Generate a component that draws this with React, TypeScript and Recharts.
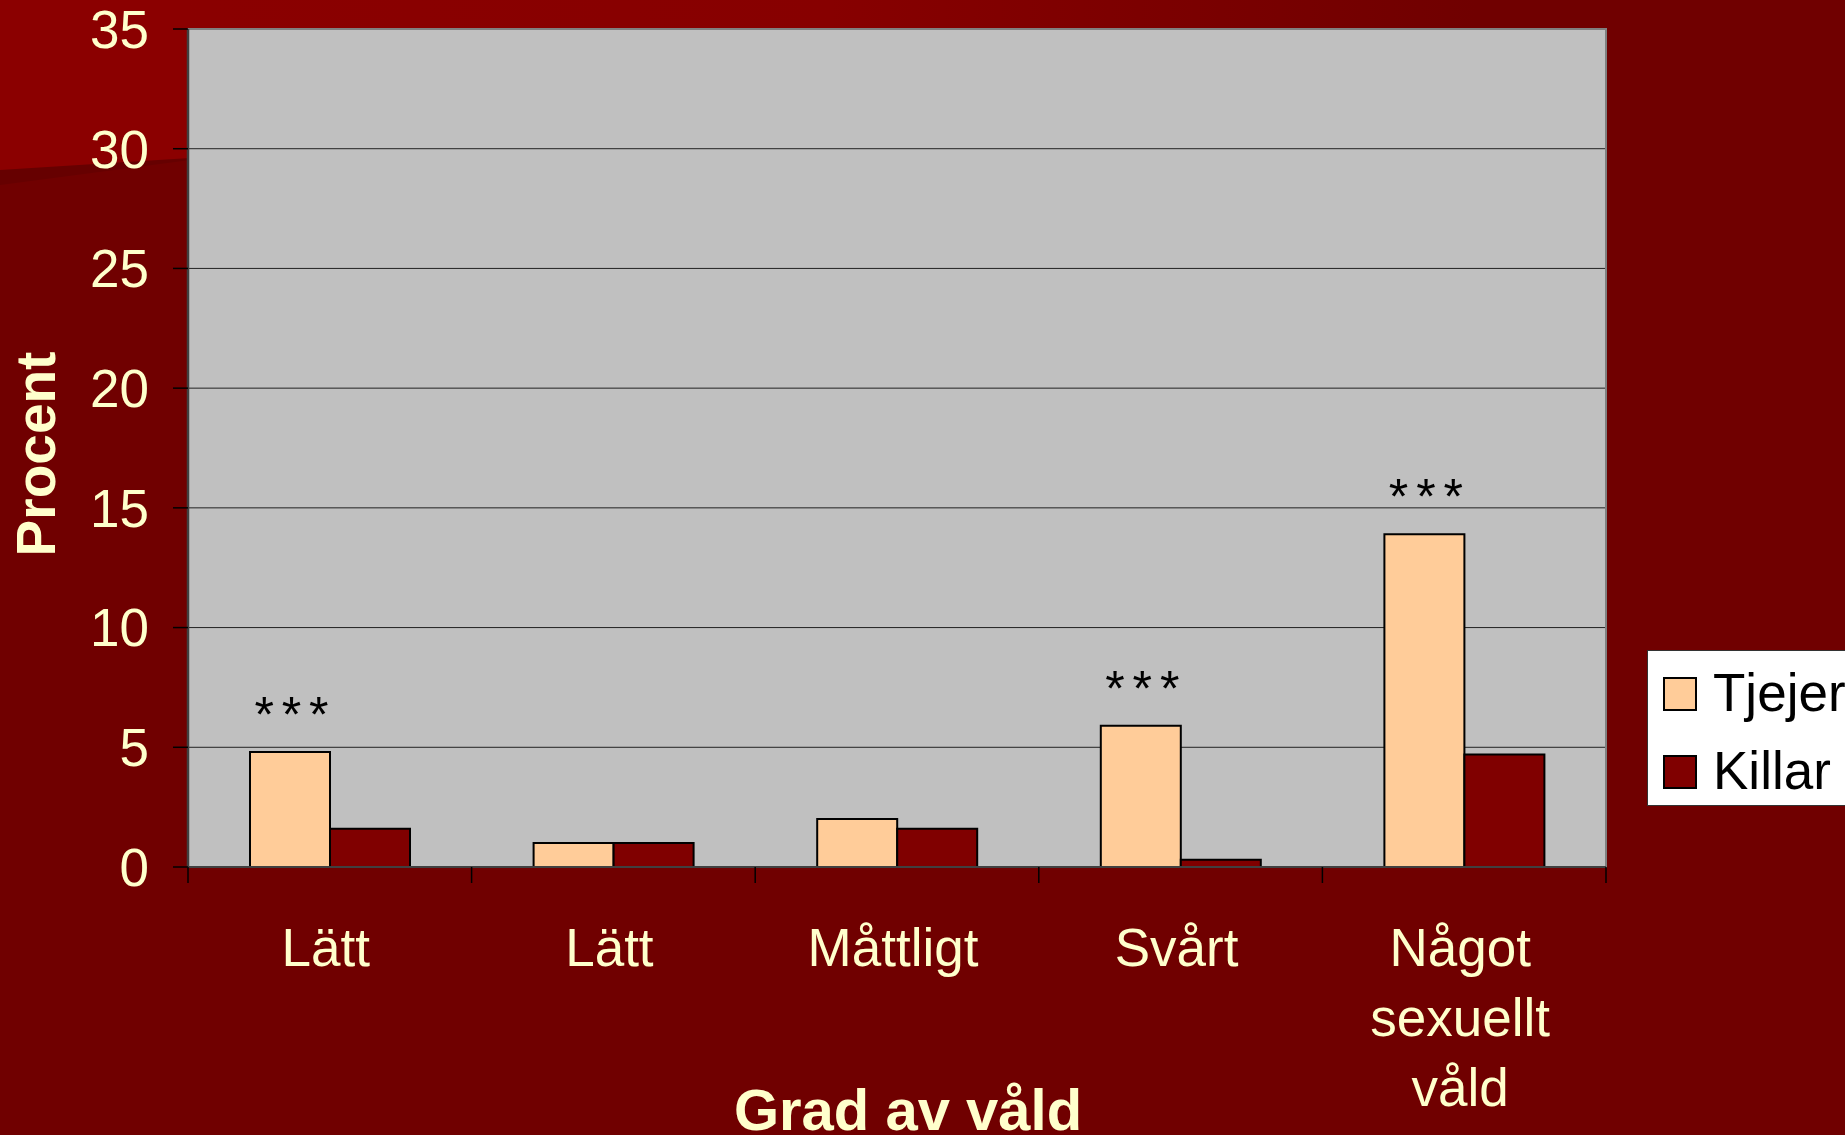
import React from "react";
import { BarChart, Bar, XAxis, YAxis, CartesianGrid, ReferenceArea, LabelList } from "recharts";

const categories = ["Lätt", "Lätt", "Måttligt", "Svårt", "Något\nsexuellt\nvåld"];
const tjejer = [4.8, 1.0, 2.0, 5.9, 13.9];
const killar = [1.6, 1.0, 1.6, 0.3, 4.7];
const signif = ["* * *", "", "", "* * *", "* * *"];
const yTicks = [0, 5, 10, 15, 20, 25, 30, 35];

const data = categories.map((grad, i) => ({
  grad,
  Tjejer: tjejer[i],
  Killar: killar[i],
  sig: signif[i],
}));

const W = 1845;
const H = 1135;
const M = { top: 29, right: 239, bottom: 0, left: 0 };
const Y_AXIS_W = 188;
const X_AXIS_H = 268;
const PLOT_W = W - M.left - M.right - Y_AXIS_W;
const BAND = PLOT_W / categories.length;
const TICK_SIZE = 16;
const TICK_MARGIN = 10;

const FONT = "'Liberation Sans', Arial, sans-serif";
const CREAM = "#FFFFCC";

function CategoryTick(props: any) {
  const { x, y, payload, index } = props;
  const axisY = y - TICK_SIZE - TICK_MARGIN;
  const lines = String(payload.value).split("\n");
  return (
    <g>
      <line x1={x - BAND / 2} x2={x - BAND / 2} y1={axisY} y2={axisY + TICK_SIZE} stroke="#000" strokeWidth={1.5} />
      {index === categories.length - 1 && (
        <line x1={x + BAND / 2} x2={x + BAND / 2} y1={axisY} y2={axisY + TICK_SIZE} stroke="#000" strokeWidth={1.5} />
      )}
      <text x={x - 4} y={axisY + 99} textAnchor="middle" fill={CREAM} fontSize={53} fontFamily={FONT}>
        {lines.map((l, i) => (
          <tspan key={i} x={x - 4} dy={i === 0 ? 0 : 70}>
            {l}
          </tspan>
        ))}
      </text>
    </g>
  );
}

function SigLabel(props: any) {
  const { x, y, width, value } = props;
  if (!value) return null;
  return (
    <text
      x={x + width / 2}
      y={y - 20}
      textAnchor="middle"
      fill="#000"
      fontSize={50}
      letterSpacing={-3}
      fontFamily={FONT}
    >
      {value}
    </text>
  );
}

function YTitle(props: any) {
  const vb = props.viewBox || { x: 0, y: 29, height: 838 };
  const cx = 55;
  const cy = vb.y + vb.height / 2 + 6;
  return (
    <text
      x={cx}
      y={cy}
      transform={`rotate(-90, ${cx}, ${cy})`}
      textAnchor="middle"
      fill={CREAM}
      fontSize={55}
      fontWeight="bold"
      fontFamily={FONT}
    >
      Procent
    </text>
  );
}

function Background() {
  return (
    <svg width={W} height={H} style={{ position: "absolute", left: 0, top: 0 }}>
      <defs>
        <linearGradient id="topband" x1="0" x2="1" y1="0" y2="0">
          <stop offset="0" stopColor="#8b0000" />
          <stop offset="0.45" stopColor="#870000" />
          <stop offset="0.8" stopColor="#700000" />
        </linearGradient>
      </defs>
      <rect width={W} height={H} fill="#700000" />
      <rect width={W} height={29} fill="url(#topband)" />
      <polygon points="0,0 190,0 190,160 0,185" fill="#660000" />
      <polygon points="0,0 190,0 190,158 0,170" fill="#8b0000" />
    </svg>
  );
}

export default function App() {
  return (
    <div style={{ position: "absolute", left: 0, top: 0, width: W, height: H, overflow: "hidden", background: "#700000" }}>
      <Background />
      <div style={{ position: "absolute", left: 0, top: 0 }}>
        <BarChart width={W} height={H} data={data} margin={M} barCategoryGap={62} barGap={0}>
          <CartesianGrid vertical={false} stroke="#222" strokeWidth={1} fill="#C0C0C0" fillOpacity={1} />
          <ReferenceArea y1={0} y2={35} fill="none" stroke="#808080" strokeWidth={2} ifOverflow="visible" />
          <XAxis
            dataKey="grad"
            height={X_AXIS_H}
            tickLine={false}
            tickSize={TICK_SIZE}
            tickMargin={TICK_MARGIN}
            interval={0}
            axisLine={{ stroke: "#404040", strokeWidth: 2 }}
            tick={<CategoryTick />}
            label={{
              value: "Grad av våld",
              position: "insideBottom",
              offset: 5,
              dx: 11,
              fill: CREAM,
              fontSize: 58,
              fontWeight: "bold",
              fontFamily: FONT,
            }}
          />
          <YAxis
            width={Y_AXIS_W}
            domain={[0, 35]}
            ticks={yTicks}
            interval={0}
            tickSize={15}
            tickMargin={24}
            tickLine={{ stroke: "#000", strokeWidth: 1.5 }}
            axisLine={{ stroke: "#404040", strokeWidth: 2.5 }}
            tick={{ fill: CREAM, fontSize: 53, fontFamily: FONT }}
            label={<YTitle />}
          />
          <Bar dataKey="Tjejer" fill="#FFCC99" stroke="#000" strokeWidth={2} isAnimationActive={false}>
            <LabelList dataKey="sig" content={<SigLabel />} />
          </Bar>
          <Bar dataKey="Killar" fill="#800000" stroke="#000" strokeWidth={2} isAnimationActive={false} />
        </BarChart>
      </div>
      <div
        style={{
          position: "absolute",
          left: 1647,
          top: 650,
          width: 230,
          height: 154,
          background: "#fff",
          border: "1px solid #333",
          fontFamily: FONT,
          fontSize: 53,
          color: "#000",
        }}
      >
        {[
          { name: "Tjejer", color: "#FFCC99", top: 26 },
          { name: "Killar", color: "#800000", top: 104 },
        ].map((it) => (
          <div key={it.name}>
            <div
              style={{
                position: "absolute",
                left: 15,
                top: it.top,
                width: 30,
                height: 30,
                background: it.color,
                border: "2px solid #000",
              }}
            />
            <div style={{ position: "absolute", left: 65, top: it.top + 34 - 48, lineHeight: "60px", whiteSpace: "nowrap" }}>
              {it.name}
            </div>
          </div>
        ))}
      </div>
    </div>
  );
}
